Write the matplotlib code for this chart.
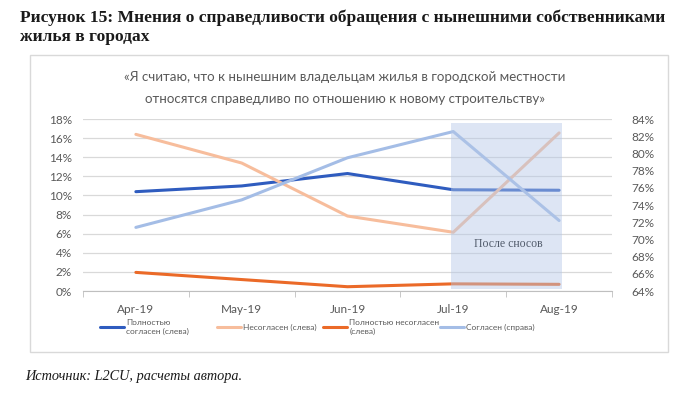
import matplotlib.pyplot as plt
from matplotlib.patches import Rectangle
from matplotlib.ticker import FuncFormatter, MultipleLocator

months = ["Apr-19", "May-19", "Jun-19", "Jul-19", "Aug-19"]
fully_agree = [10.4, 11.0, 12.3, 10.6, 10.55]       # left axis, %
disagree = [16.4, 13.4, 7.85, 6.15, 16.55]          # left axis, %
fully_disagree = [1.95, 1.2, 0.45, 0.75, 0.7]       # left axis, %
agree = [71.4, 74.6, 79.5, 82.55, 72.2]             # right axis, %
labels = ["Полностью\nсогласен (слева)", "Несогласен (слева)",
          "Полностью несогласен\n(слева)", "Согласен (справа)"]

plt.rcParams['font.family'] = ['Lato', 'DejaVu Sans']
text_col = "#595959"

fig = plt.figure(figsize=(6.8, 3.93), dpi=100)

# chart frame
fig.patches.append(Rectangle((0.044, 0.104), 0.938, 0.756, transform=fig.transFigure,
                             fill=False, edgecolor="#d9d9d9", linewidth=1.0))

ax = fig.add_axes([0.122, 0.2595, 0.778, 0.4375])
ax2 = ax.twinx()

x = range(len(months))
l1, = ax.plot(x, fully_agree, color="#2f5cbf", lw=2.2, solid_capstyle="round")
l2, = ax.plot(x, disagree, color="#f7bd9c", lw=2.2, solid_capstyle="round")
l3, = ax.plot(x, fully_disagree, color="#eb6a28", lw=2.2, solid_capstyle="round")
l4, = ax2.plot(x, agree, color="#a4bde6", lw=2.2, solid_capstyle="round")

ax.set_xlim(-0.5, len(months) - 0.5)
ax.set_ylim(0, 18)
ax2.set_ylim(64, 84)
ax.yaxis.set_major_locator(MultipleLocator(2))
ax2.yaxis.set_major_locator(MultipleLocator(2))
pct = FuncFormatter(lambda v, p: f"{v:.0f}%")
ax.yaxis.set_major_formatter(pct)
ax2.yaxis.set_major_formatter(pct)
ax.grid(axis="y", color="#d9d9d9", lw=0.9)
ax.set_axisbelow(True)

ax.set_xticks(list(x))
ax.set_xticklabels(months)
ax.set_xticks([i - 0.5 for i in range(len(months) + 1)], minor=True)
ax.tick_params(axis="x", which="major", length=0, pad=9, labelsize=8.5, labelcolor=text_col)
ax.tick_params(axis="x", which="minor", length=4, color="#bfbfbf", direction="out")
ax.tick_params(axis="y", length=0, labelsize=8.5, labelcolor=text_col, pad=8)
ax2.tick_params(axis="y", length=0, labelsize=8.5, labelcolor=text_col, pad=14)

for a in (ax, ax2):
    for s in a.spines.values():
        s.set_visible(False)
ax.spines["bottom"].set_visible(True)
ax.spines["bottom"].set_color("#bfbfbf")

# shaded period after demolitions
ax2.add_patch(Rectangle((2.98, 64.2), 1.05, 19.4, facecolor="#b4c7e7", alpha=0.45,
                        edgecolor="none", zorder=5))
ax2.text(3.52, 69.5, "После сносов", ha="center", va="center", fontsize=8.5,
         family="Liberation Serif", color="#505a6a", zorder=6)

fig.text(0.507, 0.805, "«Я считаю, что к нынешним владельцам жилья в городской местности",
         ha="center", va="center", fontsize=9.6, color=text_col)
fig.text(0.507, 0.748, "относятся справедливо по отношению к новому строительству»",
         ha="center", va="center", fontsize=9.6, color=text_col)

# legend entries laid out in fixed columns, like the original
legend_x = [100, 217, 323, 440]
for h, lab, lx in zip([l1, l2, l3, l4], labels, legend_x):
    fig.legend([h], [lab], loc="center left", bbox_to_anchor=(lx / 680, 0.168),
               frameon=False, fontsize=6, labelcolor=text_col, handlelength=2.9,
               handletextpad=0.25, borderpad=0, borderaxespad=0)

fig.text(0.03, 0.955, "Рисунок 15: Мнения о справедливости обращения с нынешними собственниками",
         family="Liberation Serif", fontweight="bold", fontsize=12.6, va="center", color="#1a1a1a")
fig.text(0.03, 0.905, "жилья в городах", family="Liberation Serif", fontweight="bold",
         fontsize=12.6, va="center", color="#1a1a1a")
fig.text(0.037, 0.043, "Источник: L2CU, расчеты автора.", family="Liberation Serif",
         style="italic", fontsize=10.3, va="center", color="#1a1a1a")

fig.savefig("out.png", dpi=100)
